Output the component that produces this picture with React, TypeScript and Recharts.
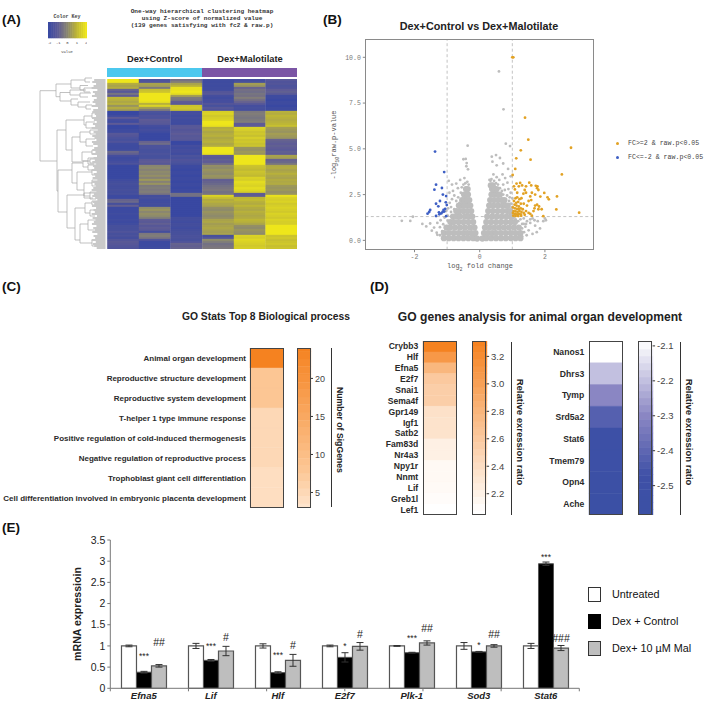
import { BarChart, Bar, Cell, XAxis, YAxis, ScatterChart, Scatter, ReferenceLine, ErrorBar, LabelList } from 'recharts';

const SANS = '"Liberation Sans", Arial, sans-serif';
const MONO = '"Liberation Mono", "DejaVu Sans Mono", monospace';

// (A) heatmap, z-scores top to bottom, one array per sample
const heat1 = [2,2,.8,.6,.8,-.8,-1.2,-.4,-1,1,.9,.7,.9,.3,.8,.5,-2,-2,-1.8,-1,-1.7,-1.8,-1,-2,-2,-1.9,-1.9,-1.2,-1.3,-1.5,-1.6,-1.4,-1.8,-1.9,-1.9,-1.8,-.7,-.9,-1.7,-1.9,-1.8,-1.7,-1.5,-2,-2,-2,-2,-2,-2,-2,-1.8,-1.7,-1.6,-1.7,-1.7,-1.6,-1.7,-1.6,-1.9,-1.9,-.8,-.7,-1.6,-.9,-1.9,-1.9,-1.9,-1.8,-1.9,-1.9,-1.8,-1.9,-1.8,-1.6,-1.6,-1.6,-1.4,-1.6,-1.5,-1.7,-1.3,-1.1,-1.2,-1.3,-1.4];
const heat2 = [-1.5,-1.4,.6,.5,-.3,1.2,1.3,2,2,2,2,1.9,.9,1.6,.5,-.2,-1.5,-1.6,-1.4,-1.5,-1,-1.1,-1.2,-1.7,-1.8,-1.7,-1.8,-2,-2,-2,-2,-.8,-.6,-1.5,-1.5,-1.6,-1.6,-1.5,-1.6,-1.6,-1.1,-1,-1.2,0,.1,-.1,.1,0,.2,-.1,.4,-.1,.3,-.3,-.2,-.3,-.2,-.4,-1.7,-1.6,-1.8,-1.8,-1.7,-1.8,.1,.3,0,.2,.1,-.2,-1,-1.1,-.9,-1.2,-1,-1.1,-1.7,-.3,-.2,-.4,-1.4,-1.9,-1.9,-1.9,-1.8];
const heat3 = [-.5,-.2,.6,.9,1.9,1.9,2,1.8,.5,-.3,-.4,-1,-1.1,1.3,1.4,1.2,-1.7,-1.7,-1.8,-1.7,-1.8,-1.8,-1.9,-1.2,-1.1,-1.3,-1.2,-1,-1.2,-1.1,-1.2,-2,-2,-1.7,-1.8,-1.7,-1.7,-1.8,-1.5,-1.6,-1.4,-1.5,-1.6,-1.9,-1.9,-2,-1.9,-1.9,-2,-1.9,-1.9,-2,-1.9,-1.9,-2,-1.9,-1.9,-.5,-.5,-2,-2,-2,-2,-2,-2,-2,-2,-2,-2,-1.7,-1.7,-1.8,-1.7,-1.7,-1.8,-1.7,-1.6,-1.6,-1.5,-1.5,-1.6,-1.4,-.8,-.9,-.8];
const heat4 = [-1.8,-1.9,-1.8,-1.9,-1.8,-1.8,-1.3,-1.2,-1.7,-1.8,-1.7,-1.7,-1.3,-1.6,-1.2,-1.4,1.5,1.6,1.4,1.5,1.6,2,2,1.9,.8,.9,.7,.8,.9,.7,.8,.9,.7,.8,2,2,2,1.9,-1,-1.1,-.9,-1,-.6,.2,.1,.3,.2,.1,.3,.2,-.9,-.8,-.7,-.5,-.4,-.3,-.5,-.4,1.6,1.2,.8,.9,.7,.6,.2,.1,.3,.2,.1,.2,.6,.7,.5,.6,.7,.6,.5,.6,-1.6,-1.3,.1,-.2,-.5,-.4,-.3];
const heat5 = [-1.7,-1.6,.5,.3,-.8,-.5,-.6,-.4,-.5,-.2,-.5,-.8,-1.2,-1.7,-1.6,-1.7,-.3,-.2,-.3,-.4,-.3,-.2,-1,-1,1.6,1.5,1.3,1.4,1.2,1.5,1.3,1.4,1.2,1.3,.3,.2,.4,.3,2,2,2,2,2,1.3,1.2,1.1,1.3,1.2,1.1,1.6,1.5,1.8,1.7,1.6,1.8,1.7,1.5,-1,-1,1,1.1,.9,.8,1,.8,.7,.9,.8,.7,.8,1,.9,.7,.2,.1,.3,.2,.1,1.6,1.5,1.7,1.6,1.5,1.4,1.5];
const heat6 = [-1.2,-1.4,-1.3,-1.5,-1.4,-1,-.9,-1.1,-1.9,-1.9,-2,-1.9,-1.9,-2,-1.9,-1.9,.9,.8,1,.9,.8,.9,1,1.2,.5,.4,.3,.5,.4,.3,-.8,-.9,-1,-.9,-1,-1.1,-.9,-1,.6,.5,-.8,-.7,-.4,.7,.8,.6,.7,.9,.7,.6,.8,.7,.8,.4,.3,.4,.2,.3,1.9,1.6,1.5,1.6,1.4,1.5,1.6,1.5,1.4,1.6,1.5,1.4,1.6,1.5,1.5,2,2,2,2,2,1.3,1.4,1.2,1.3,1.4,1.2,1.3];
const heatSamples = [heat1, heat2, heat3, heat4, heat5, heat6];
// how far each leaf stub stops short of the row, in column widths
const leafShort = [.1,.04,.16,.08,.02,.2,.06,.12,.03,.18,.09,.05,.14,.02,.22,.07,.04,.12,.16,.03,.09,.18,.06,.13,.02,.2,.08,.15,.04,.11,.17,.03,.07,.21,.1,.05,.14,.02,.19,.08,.12,.04,.16,.06,.1,.02,.18,.08,.13,.05,.2,.03,.11,.15,.07,.02,.17,.09,.04,.13,.2,.06,.1,.03,.16,.08,.12,.02,.19,.05,.14,.09,.03,.17,.07,.11,.04,.2,.08,.13,.02,.15,.06,.1,.18];
const colorKeyLevels = [-2,-1.8,-1.6,-1.4,-1.2,-1,-.8,-.6,-.4,-.2,0,.2,.4,.6,.8,1,1.2,1.4,1.6,1.8,2];
const colorKeyTicks = [-2,-1,0,1,2];
const groupStrip = [{ name: 'groups', control: 1, mal: 1 }];

// dendrogram merges: parent height, upper row, upper child height, lower row, lower child height
const dendroLinks = [
  [40,90.7,56,161,57],[56,84,71,96.7,60],[71,80,85,88,80],[85,78,92,82,90],[80,85.5,88,90,86],
  [60,92.5,70,101,71],[70,90,84,95,80],[84,88,92,92,90],[80,93,91,97,88],[71,99,78,105,78],
  [78,102,90,107,86],[86,105,92,109,91],[57,130,66,191,58],[66,120,84,150,72],[84,116,92,125,86],
  [92,113,96,118,97],[86,122,95,128,92],[72,137,80,162,82],[80,132,90,142,86],[90,130,97,134,96],
  [86,139,95,146,93],[82,152,92,161,88],[88,158,97,164,94],[92,150,98,154,97],[58,170,72,212,67],
  [72,163,83,183,77],[83,161,90,167,88],[88,165,96,170,95],[90,159,97,163,96],[77,172,92,190,84],
  [92,170,97,175,98],[84,183,92,196,90],[92,180,98,186,96],[90,192,97,199,96],[67,195,84,228,75],
  [84,193,97,198,93],[75,208,85,240,80],[85,203,92,213,90],[92,201,98,205,97],[90,210,97,216,95],
  [80,224,88,243,92],[88,220,96,230,94],[92,240,98,246,97],
];

// (B) volcano
const volcanoCore = [
  [-1.1,.12],[-.95,.12],[-.8,.12],[-.65,.12],[-.5,.12],[-.35,.12],[-.2,.12],[-.08,.1],[.08,.1],[.2,.12],[.35,.12],[.5,.12],[.65,.12],[.8,.12],[.95,.12],[1.1,.12],[1.25,.12],
  [-1.1,.4],[-.95,.4],[-.8,.4],[-.65,.4],[-.5,.4],[-.38,.4],[-.25,.4],[-.13,.4],
  [-1.02,.7],[-.9,.7],[-.75,.7],[-.6,.7],[-.45,.7],[-.3,.7],[-.16,.7],
  [-.9,1],[-.8,1],[-.65,1],[-.5,1],[-.35,1],[-.2,1],
  [-.82,1.3],[-.72,1.3],[-.6,1.3],[-.45,1.3],[-.33,1.3],[-.23,1.3],
  [-.72,1.6],[-.62,1.6],[-.5,1.6],[-.38,1.6],[-.26,1.6],
  [-.64,1.9],[-.56,1.9],[-.48,1.9],[-.38,1.9],[-.29,1.9],
  [-.54,2.2],[-.47,2.2],[-.4,2.2],[-.32,2.2],
  [-.48,2.5],[-.42,2.5],[-.36,2.5],[-.42,2.8],[-.37,2.8],
  [.13,.4],[.25,.4],[.38,.4],[.5,.4],[.65,.4],[.8,.4],[.95,.4],[1.1,.4],[1.25,.4],
  [.16,.7],[.3,.7],[.45,.7],[.6,.7],[.75,.7],[.9,.7],[1.05,.7],[1.2,.7],
  [.2,1],[.35,1],[.5,1],[.65,1],[.8,1],[.95,1],[1.08,1],
  [.23,1.3],[.38,1.3],[.52,1.3],[.67,1.3],[.82,1.3],[.95,1.3],[1,1.3],
  [.26,1.6],[.4,1.6],[.55,1.6],[.7,1.6],[.85,1.6],[.93,1.6],
  [.29,1.9],[.42,1.9],[.56,1.9],[.7,1.9],[.8,1.9],[.86,1.9],
  [.32,2.2],[.44,2.2],[.56,2.2],[.68,2.2],[.76,2.2],
  [.36,2.5],[.46,2.5],[.56,2.5],[.62,2.5],[.38,2.8],[.46,2.8],[.52,2.8],[.34,3],[.4,3],
];
const volcanoGrey = [
  [.59,9.23],[.73,7.16],[-.37,5.17],[.8,5.28],[.93,5.15],[.5,4.66],[.39,4.3],[.37,4.57],[.62,4.5],[.72,4.2],[.52,4.1],[.87,3.9],
  [-.5,4.43],[-.43,4.45],[-.4,4.22],[-.36,3.88],[-.41,4.05],[-.47,3.4],[-.6,3.3],[-.72,3.1],[-.85,3.05],[-.95,3.25],[-.67,2.85],[-.82,2.7],[-.93,2.6],[-.78,2.45],
  [.42,3.6],[.52,3.45],[.33,3.25],[.6,3.3],[.7,3.6],[.78,3.4],[.85,3.15],[.95,3.5],[.72,3.05],[.88,2.8],[.95,2.6],[.77,2.75],[1,2.3],[.92,2.35],
  [-2.39,1.07],[-2.13,1.06],[-2.05,1.29],[-1.76,.9],[-1.64,.76],[-1.47,.53],[-1.32,.42],[-1.52,.92],[-1.4,.7],[-1.3,.95],[-1.22,.72],[-1.2,1.1],[-1.15,.5],[-1.08,1.25],[-1.3,.3],[-1.22,.28],
  [-.97,1.75],[-.92,2.05],[-.88,1.55],[-1.03,1.6],[-.98,1.35],[-.85,2.25],
  [-.72,2.15],[-.66,2.35],[-.58,2.6],[-.55,2.9],[-.5,3.05],[-.44,3.12],[-.38,3.2],[-.34,3.05],[-.62,2.05],[-.98,1.08],[-1.12,.88],[-.88,1.82],[-.78,1.7],
  [.3,3.3],[.36,3.35],[.44,3.25],[.5,3.12],[.56,3.05],[.62,2.85],[.68,2.7],[.72,2.5],[.84,2.45],[.9,2.15],[.96,2],[.98,1.8],[1.1,1.15],[1.18,1.05],[1.3,.65],[1.35,.9],
  [1.35,1.2],[1.45,1.05],[1.55,.95],[1.62,1.2],[1.7,.8],[1.78,1.05],[1.85,.65],[1.95,1.05],[2,1.2],[2.03,1.1],[1.4,.75],[1.5,.55],[1.62,.35],[1.75,.45],[1.36,.45],[1.44,.28],[1.3,.9],[1.42,.9],
  [1.55,1.15],[1.68,1.1],[1.25,1.15],[1.2,.25],[1.3,.22],
];
const volcanoUp = [
  [1.03,10],[1,10],[1.39,6.7],[1.49,5.5],[1.26,4.92],[1.12,4.48],[1.56,4.41],[2.8,5.06],[2.52,3.6],[1.09,3.9],[1.01,3.57],[3.05,1.51],[2.35,1.69],[2.37,2.4],[2.12,2.24],[2.08,2.35],[1.98,2.59],[1.86,2.39],
  [1.77,2.95],[1.72,2.98],[1.76,2.85],[1.8,2.75],[1.52,3.15],[1.58,3],[1.42,2.95],[1.24,3.14],[1.13,3.1],[1.2,2.95],[1.3,3],[1.05,2.95],[1.08,2.78],[1.15,2.6],[1.38,2.75],[1.34,2.55],[1.42,2.6],[1.6,2.6],[1.7,2.5],[1.55,2.4],[1.5,2.15],
  [1.28,2.3],[1.22,2.25],[1.1,2.3],[1.15,2.35],[1.05,2.15],[1.12,2.05],[1.18,2.1],[1.26,2],[1.35,2],[1.07,1.95],[1.13,1.9],[1.2,1.85],[1.02,1.8],[1.08,1.75],[1.14,1.72],[1.2,1.7],[1.26,1.75],[1.32,1.7],
  [1.04,1.6],[1.1,1.58],[1.16,1.55],[1.22,1.6],[1.28,1.55],[1.02,1.5],[1.08,1.45],[1.14,1.42],[1.2,1.45],[1.26,1.42],[1.03,1.35],[1.1,1.33],[1.18,1.33],[1.27,1.35],[1.35,1.5],[1.42,1.6],[1.5,1.5],[1.55,1.45],[1.6,1.35],[1.38,1.4],
  [1.7,1.9],[1.76,1.95],[1.68,1.75],[1.82,1.85],[1.8,1.7],[1.9,1.7],[1.65,1.6],[1.95,1.32],[1.45,1.9],[1.58,2.2],
];
const volcanoDown = [
  [-1.37,4.85],[-1.09,3.73],[-1.34,3.04],[-1.39,2.77],[-1.16,2.86],[-1.13,2.5],[-1.03,2.42],[-1.34,2],[-1.22,2.15],[-1.04,2.08],[-1.27,1.86],[-1.01,1.93],
  [-1.52,1.66],[-1.55,1.55],[-1.6,1.46],[-1.11,1.66],[-1.06,1.72],[-1.09,1.57],[-1.25,1.53],[-1.18,1.47],[-1.34,1.33],[-1.24,1.42],[-1.03,1.32],[-1.14,1.55],
];

// (C) GO terms
const goTerms = ['Animal organ development','Reproductive structure development','Reproductive system development','T-helper 1 type immune response','Positive regulation of cold-induced thermogenesis','Negative regulation of reproductive process','Trophoblast giant cell differentiation','Cell differentiation involved in embryonic placenta development'];
const goCounts = [24,8,8,5,5,5,4,4];
const goLevels = [3,4,5,6,7,8,9,10,11,12,13,14,15,16,17,18,19,20,21,22,23,24];
const goTicks = [5,10,15,20];

// (D) genes
const upGenes = ['Crybb3','Hlf','Efna5','E2f7','Snai1','Sema4f','Gpr149','Igf1','Satb2','Fam83d','Nr4a3','Npy1r','Nnmt','Lif','Greb1l','Lef1'];
const upRatios = [3.3,3.08,2.78,2.6,2.55,2.55,2.37,2.35,2.35,2.22,2.22,2.13,2.13,2.12,2.1,2.07];
const upLevels = [2.05,2.1,2.15,2.2,2.25,2.3,2.35,2.4,2.45,2.5,2.55,2.6,2.65,2.7,2.75,2.8,2.85,2.9,2.95,3,3.05,3.1,3.15,3.2,3.25,3.3];
const upTicks = [2.2,2.4,2.6,2.8,3,3.2];
const downGenes = ['Nanos1','Dhrs3','Tymp','Srd5a2','Stat6','Tmem79','Opn4','Ache'];
const downRatios = [-2.09,-2.2,-2.3,-2.42,-2.52,-2.53,-2.55,-2.58];
const downLevels = [-2.58,-2.56,-2.54,-2.52,-2.5,-2.48,-2.46,-2.44,-2.42,-2.4,-2.38,-2.36,-2.34,-2.32,-2.3,-2.28,-2.26,-2.24,-2.22,-2.2,-2.18,-2.16,-2.14,-2.12,-2.1];
const downTicks = [-2.5,-2.4,-2.3,-2.2,-2.1];

// (E) qPCR
const qpcrGenes = ['Efna5','Lif','Hlf','E2f7','Plk-1','Sod3','Stat6'];
const untreated = [1,1,1,1,1,1,1];
const untreatedErr = [.02,.06,.05,.02,.01,.08,.06];
const dexControl = [.38,.66,.37,.73,.84,.86,2.94];
const dexControlErr = [.02,.02,.02,.11,.01,.01,.04];
const dexMal = [.53,.88,.66,.99,1.07,1,.95];
const dexMalErr = [.03,.11,.14,.09,.05,.03,.06];
const controlMarks = ['***','***','***','*','***','*','***'];
const controlMarkAt = [.68,.93,.72,.93,1.12,.96,3.03];
const malMarks = ['##','#','#','#','##','##','###'];
const malMarkAt = [1.0,1.12,.92,1.18,1.34,1.18,1.1];
const qpcrTicks = [0,.5,1,1.5,2,2.5,3,3.5];

type Stop = [number, number[]];
const ramp = (stops: Stop[]) => (v: number) => {
  if (v <= stops[0][0]) return `rgb(${stops[0][1].join(',')})`;
  for (let i = 1; i < stops.length; i++) {
    if (v <= stops[i][0]) {
      const t = (v - stops[i - 1][0]) / (stops[i][0] - stops[i - 1][0]);
      const c = stops[i - 1][1].map((a, k) => Math.round(a + (stops[i][1][k] - a) * t));
      return `rgb(${c.join(',')})`;
    }
  }
  return `rgb(${stops[stops.length - 1][1].join(',')})`;
};
const heatColor = ramp([[-2, [58, 73, 162]], [-1, [94, 92, 150]], [0, [138, 134, 114]], [1, [189, 182, 54]], [2, [238, 230, 28]]]);
const goColor = ramp([[3, [254, 228, 204]], [8, [252, 198, 148]], [24, [245, 130, 32]]]);
const upColor = ramp([[2.07, [255, 255, 255]], [3.3, [245, 130, 32]]]);
const downColor = ramp([[-2.6, [58, 80, 165]], [-2.47, [63, 80, 166]], [-2.3, [138, 134, 195]], [-2.09, [255, 255, 255]]]);

const heatRows = heat1.map((_, i) => {
  const row: Record<string, number | string> = { row: i, short: leafShort[i], leaf: .465 - leafShort[i], gutter: .05 };
  heatSamples.forEach((s, k) => { row['s' + k] = 1; });
  return row;
});
const keyRows = colorKeyLevels.map(level => ({ level, one: 1 }));
const qpcrRows = qpcrGenes.map((gene, i) => ({
  gene,
  untreated: untreated[i], untreatedErr: untreatedErr[i],
  control: dexControl[i], controlErr: dexControlErr[i],
  mal: dexMal[i], malErr: dexMalErr[i],
}));
const toPoints = (list: number[][]) => list.map(([x, y]) => ({ x, y }));

function Txt({ x, y, size, children, align = 'left', weight = 400, font = SANS, color = '#222', rotate = 0, italic = false }: any) {
  const shift = align === 'center' ? '-50%' : align === 'right' ? '-100%' : '0';
  return (
    <div style={{ position: 'absolute', left: x, top: y, fontFamily: font, fontSize: size, fontWeight: weight, fontStyle: italic ? 'italic' : 'normal', color, whiteSpace: 'pre', lineHeight: 1, transform: `translate(${shift},-50%) rotate(${rotate}deg)` }}>
      {children}
    </div>
  );
}

function Frame({ left, top, width, height, color = '#444', thick = 1.2 }: any) {
  return <div style={{ position: 'absolute', left, top, width, height, boxSizing: 'border-box', border: `${thick}px solid ${color}` }} />;
}

function Rule({ x, top, height }: any) {
  return <div style={{ position: 'absolute', left: x, top, width: 1.1, height, background: '#333' }} />;
}

function HeatColumn({ labels, values, colorOf, right, top, width, height, labelWidth, fontSize, labelGap = 4.5 }: any) {
  const rows = labels.map((name: string, i: number) => ({ name, one: 1, value: values[i] }));
  const tick = (p: any) => (
    <text x={p.x} y={p.y} dy="0.35em" textAnchor="end" fontSize={fontSize} fontWeight={700} fontFamily={SANS} fill="#2a2a2a">{p.payload.value}</text>
  );
  return (
    <div style={{ position: 'absolute', left: right - width - labelWidth, top }}>
      <BarChart width={width + labelWidth} height={height} data={rows} layout="vertical" margin={{ top: 0, right: 0, bottom: 0, left: 0 }} barCategoryGap={0}>
        <XAxis type="number" domain={[0, 1]} hide />
        <YAxis type="category" dataKey="name" width={labelWidth} interval={0} tickLine={false} axisLine={false} tickSize={0} tickMargin={labelGap} tick={tick} />
        <Bar dataKey="one" isAnimationActive={false}>
          {rows.map((r: any) => <Cell key={r.name} fill={colorOf(r.value)} stroke={colorOf(r.value)} strokeWidth={0.4} />)}
        </Bar>
      </BarChart>
      <Frame left={labelWidth} top={0} width={width} height={height} />
    </div>
  );
}

function ColorBar({ levels, colorOf, domain, ticks, left, top, width, height, fontSize, format }: any) {
  const rows = levels.map((level: number) => ({ level, one: 1 }));
  const pxPerUnit = height / (domain[1] - domain[0]);
  const step = Math.abs(levels[1] - levels[0]);
  return (
    <div style={{ position: 'absolute', left, top }}>
      <BarChart width={width + 34} height={height} data={rows} layout="vertical" margin={{ top: 0, right: 0, bottom: 0, left: 0 }} barSize={step * pxPerUnit + 1}>
        <XAxis type="number" domain={[0, 1]} hide />
        <YAxis type="number" dataKey="level" orientation="right" reversed domain={domain} ticks={ticks} allowDataOverflow width={34} axisLine={false} tickSize={2.5} tickMargin={2} tickLine={{ stroke: '#333' }} tickFormatter={format} tick={{ fontSize, fontFamily: SANS, fill: '#444' }} />
        <Bar dataKey="one" isAnimationActive={false}>
          {rows.map((r: any) => <Cell key={r.level} fill={colorOf(r.level)} stroke={colorOf(r.level)} strokeWidth={1.2} />)}
        </Bar>
      </BarChart>
      <Frame left={0} top={0} width={width} height={height} />
    </div>
  );
}

const dot = (fill: string, r: number) => (p: any) => <circle cx={p.cx} cy={p.cy} r={r} fill={fill} />;

function MarkLabel({ marks, at, fontSize }: any) {
  return (p: any) => {
    const baseline = p.y + p.height;
    const y = baseline - at[p.index] * QPCR_PX_PER_UNIT;
    return <text x={p.x + p.width / 2} y={y} textAnchor="middle" fontSize={fontSize} fontFamily={SANS} fill="#222">{marks[p.index]}</text>;
  };
}
const QPCR_PX_PER_UNIT = 148.3 / 3.5;

export default function App() {
  return (
    <div style={{ position: 'absolute', left: 0, top: 0, width: 709, height: 706, background: '#fff', overflow: 'hidden' }}>
      <Txt x={2} y={20} size={13.5} weight={700} color="#111">(A)</Txt>
      <Txt x={323} y={20} size={13.5} weight={700} color="#111">(B)</Txt>
      <Txt x={2} y={287} size={13.5} weight={700} color="#111">(C)</Txt>
      <Txt x={370} y={287} size={13.5} weight={700} color="#111">(D)</Txt>
      <Txt x={2} y={528} size={13.5} weight={700} color="#111">(E)</Txt>

      {/* A: colour key */}
      <Txt x={67} y={17} size={5} weight={700} font={MONO} align="center" color="#444">Color Key</Txt>
      <div style={{ position: 'absolute', left: 48, top: 22 }}>
        <BarChart width={39} height={22} data={keyRows} margin={{ top: 0, right: 0, bottom: 0, left: 0 }} barCategoryGap={0}>
          <XAxis dataKey="level" interval={0} height={6} tickSize={1.5} axisLine={false} tickLine={false} tick={{ fontSize: 3.8, fontFamily: MONO, fill: '#444' }} tickFormatter={(v: number) => (colorKeyTicks.includes(v) ? String(v) : '')} />
          <YAxis domain={[0, 1]} hide />
          <Bar dataKey="one" isAnimationActive={false}>
            {keyRows.map(r => <Cell key={r.level} fill={heatColor(r.level)} stroke={heatColor(r.level)} strokeWidth={0.6} />)}
          </Bar>
        </BarChart>
      </div>
      <Txt x={67} y={53} size={3.8} font={MONO} align="center" color="#444">Value</Txt>
      <Txt x={202} y={12} size={6.1} weight={700} font={MONO} align="center" color="#333">One-way hierarchical clustering heatmap</Txt>
      <Txt x={202} y={18.7} size={6.1} weight={700} font={MONO} align="center" color="#333">using Z-score of normalized value</Txt>
      <Txt x={202} y={26} size={6.1} weight={700} font={MONO} align="center" color="#333">(139 genes satisfying with fc2 &amp; raw.p)</Txt>
      <Txt x={154.7} y={59.5} size={9.3} weight={700} align="center">Dex+Control</Txt>
      <Txt x={250} y={59.5} size={9.3} weight={700} align="center">Dex+Malotilate</Txt>

      {/* A: group strip */}
      <div style={{ position: 'absolute', left: 107, top: 67.5 }}>
        <BarChart width={190} height={9.5} data={groupStrip} layout="vertical" margin={{ top: 0, right: 0, bottom: 0, left: 0 }} barCategoryGap={0}>
          <XAxis type="number" domain={[0, 2]} hide />
          <YAxis type="category" dataKey="name" hide />
          <Bar dataKey="control" stackId="g" fill="#4CC8EE" isAnimationActive={false} />
          <Bar dataKey="mal" stackId="g" fill="#7B55A5" isAnimationActive={false} />
        </BarChart>
      </div>

      {/* A: dendrogram */}
      <div style={{ position: 'absolute', left: 35, top: 75 }}>
        <ScatterChart width={75} height={180} margin={{ top: 0, right: 0, bottom: 0, left: 0 }}>
          <XAxis type="number" dataKey="x" domain={[35, 110]} hide />
          <YAxis type="number" dataKey="y" domain={[75, 255]} reversed hide />
          {dendroLinks.map(([h, y1, x1, y2, x2], i) => (
            <Scatter key={i} data={[{ x: x1, y: y1 }, { x: h, y: y1 }, { x: h, y: y2 }, { x: x2, y: y2 }]} line={{ stroke: '#a6a6a6', strokeWidth: 0.7 }} shape={() => <g />} isAnimationActive={false} />
          ))}
        </ScatterChart>
      </div>

      {/* A: heatmap */}
      <div style={{ position: 'absolute', left: 91, top: 79.3 }}>
        <BarChart width={206.3} height={170} data={heatRows} layout="vertical" margin={{ top: 0, right: 0, bottom: 0, left: 0 }} barCategoryGap={0}>
          <XAxis type="number" domain={[0, 6.515]} hide />
          <YAxis type="category" dataKey="row" hide />
          <Bar dataKey="short" stackId="h" fill="transparent" isAnimationActive={false} />
          <Bar dataKey="leaf" stackId="h" fill="#c9c9c9" isAnimationActive={false} />
          <Bar dataKey="gutter" stackId="h" fill="#fff" isAnimationActive={false} />
          {heatSamples.map((sample, k) => (
            <Bar key={k} dataKey={'s' + k} stackId="h" isAnimationActive={false}>
              {sample.map((z, i) => <Cell key={i} fill={heatColor(z)} stroke={heatColor(z)} strokeWidth={0.3} />)}
            </Bar>
          ))}
        </BarChart>
      </div>

      {/* B: volcano */}
      <Txt x={479} y={26} size={10.8} weight={700} align="center">Dex+Control vs Dex+Malotilate</Txt>
      <div style={{ position: 'absolute', left: 330, top: 30 }}>
        <ScatterChart width={270} height={245} margin={{ top: 9, right: 5.7, bottom: 0, left: 0 }}>
          <XAxis type="number" dataKey="x" domain={[-3.51, 3.515]} ticks={[-2, 0, 2]} height={25.3} tickSize={2.5} axisLine={false} tickLine={{ stroke: '#888' }} tick={{ fontSize: 6.5, fontFamily: MONO, fill: '#777' }} />
          <YAxis type="number" dataKey="y" domain={[-0.51, 11]} ticks={[0, 2.5, 5, 7.5, 10]} width={35.3} tickSize={2.5} axisLine={false} tickLine={{ stroke: '#888' }} tickFormatter={(v: number) => v.toFixed(1)} tick={{ fontSize: 6.5, fontFamily: MONO, fill: '#777' }} />
          <Scatter data={toPoints(volcanoCore)} shape={dot('#bdbdbd', 3.1)} isAnimationActive={false} />
          <Scatter data={toPoints(volcanoGrey)} shape={dot('#bdbdbd', 1.4)} isAnimationActive={false} />
          <ReferenceLine x={-1} stroke="#bbb" strokeWidth={0.9} strokeDasharray="3 2.5" />
          <ReferenceLine x={1} stroke="#bbb" strokeWidth={0.9} strokeDasharray="3 2.5" />
          <ReferenceLine y={1.3} stroke="#bbb" strokeWidth={0.9} strokeDasharray="3 2.5" />
          <Scatter data={toPoints(volcanoUp)} shape={dot('#E2A224', 1.4)} isAnimationActive={false} />
          <Scatter data={toPoints(volcanoDown)} shape={dot('#3E5FC4', 1.4)} isAnimationActive={false} />
        </ScatterChart>
      </div>
      <Frame left={365.3} top={39} width={229} height={210.7} color="#8a8a8a" thick={1.3} />
      <Txt x={480} y={268} size={7} font={MONO} align="center" color="#555">log<sub style={{ fontSize: 5 }}>2</sub> fold change</Txt>
      <Txt x={336} y={145} size={7} font={MONO} align="center" color="#555" rotate={-90}>-log<sub style={{ fontSize: 5 }}>10</sub>raw.p-value</Txt>
      <div style={{ position: 'absolute', left: 616, top: 142, width: 2.6, height: 2.6, borderRadius: 2, background: '#E2A224' }} />
      <div style={{ position: 'absolute', left: 616, top: 156, width: 2.6, height: 2.6, borderRadius: 2, background: '#3E5FC4' }} />
      <Txt x={628} y={143.5} size={6.6} font={MONO} color="#444">FC&gt;=2 &amp; raw.p&lt;0.05</Txt>
      <Txt x={628} y={157.5} size={6.6} font={MONO} color="#444">FC&lt;=-2 &amp; raw.p&lt;0.05</Txt>

      {/* C */}
      <Txt x={266} y={316.7} size={10.3} weight={700} align="center">GO Stats Top 8 Biological process</Txt>
      <HeatColumn labels={goTerms} values={goCounts} colorOf={goColor} right={284} top={348.3} width={34} height={159.7} labelWidth={250} fontSize={8} labelGap={4} />
      <ColorBar levels={goLevels} colorOf={goColor} domain={[3, 24]} ticks={goTicks} left={297} top={348.3} width={13.5} height={159.7} fontSize={9} />
      <Rule x={331} top={348} height={159} />
      <Txt x={340} y={430} size={8.7} weight={700} align="center" rotate={90}>Number of SigGenes</Txt>

      {/* D */}
      <Txt x={540} y={316.7} size={12.1} weight={700} align="center">GO genes analysis for animal organ development</Txt>
      <HeatColumn labels={upGenes} values={upRatios} colorOf={upColor} right={457} top={341.3} width={33.7} height={174} labelWidth={50} fontSize={8.6} labelGap={4.8} />
      <ColorBar levels={upLevels} colorOf={upColor} domain={[2.045, 3.312]} ticks={upTicks} left={471.7} top={341.3} width={14.6} height={174} fontSize={9.5} format={(v: number) => v.toFixed(1)} />
      <Rule x={511.2} top={342} height={173} />
      <Txt x={520} y={431.7} size={9.5} weight={700} align="center" rotate={90}>Relative exression ratio</Txt>
      <HeatColumn labels={downGenes} values={downRatios} colorOf={downColor} right={623.3} top={341.3} width={34} height={174} labelWidth={50} fontSize={8.6} labelGap={4.8} />
      <ColorBar levels={downLevels} colorOf={downColor} domain={[-2.584, -2.086]} ticks={downTicks} left={637.7} top={341.3} width={14.6} height={174} fontSize={9.5} format={(v: number) => v.toFixed(1)} />
      <Rule x={680} top={342} height={173} />
      <Txt x={689} y={431.7} size={9.5} weight={700} align="center" rotate={90}>Relative exression ratio</Txt>

      {/* E */}
      <Txt x={77} y={614} size={10.6} weight={700} align="center" rotate={-90}>mRNA expressioin</Txt>
      <div style={{ position: 'absolute', left: 60, top: 530 }}>
        <BarChart width={530} height={176} data={qpcrRows} margin={{ top: 10, right: 10.7, bottom: 0, left: 0 }} barCategoryGap="16.7%" barGap={0}>
          <XAxis xAxisId="axisEdge" type="number" domain={[0, 7]} ticks={[0, 1, 2, 3, 4, 5, 6, 7]} height={3} tickSize={3} stroke="#777" tickFormatter={() => ''} />
          <XAxis xAxisId="cat" dataKey="gene" height={14.7} axisLine={false} tickLine={false} tickSize={0} tickMargin={1} interval={0} tick={{ fontSize: 9.5, fontWeight: 700, fontStyle: 'italic', fontFamily: SANS, fill: '#222' }} />
          <YAxis domain={[0, 3.5]} ticks={qpcrTicks} width={50.3} tickSize={3} stroke="#777" tickFormatter={(v: number) => String(v)} tick={{ fontSize: 10.5, fontFamily: SANS, fill: '#222' }} />
          <Bar xAxisId="cat" dataKey="untreated" fill="#fff" stroke="#555" strokeWidth={1.2} isAnimationActive={false}>
            <ErrorBar dataKey="untreatedErr" width={3.5} stroke="#333" strokeWidth={1} />
          </Bar>
          <Bar xAxisId="cat" dataKey="control" fill="#000" stroke="#555" strokeWidth={1} isAnimationActive={false}>
            <ErrorBar dataKey="controlErr" width={3.5} stroke="#333" strokeWidth={1} />
            <LabelList content={MarkLabel({ marks: controlMarks, at: controlMarkAt, fontSize: 8.5 })} />
          </Bar>
          <Bar xAxisId="cat" dataKey="mal" fill="#bebebe" stroke="#555" strokeWidth={1.2} isAnimationActive={false}>
            <ErrorBar dataKey="malErr" width={3.5} stroke="#333" strokeWidth={1} />
            <LabelList content={MarkLabel({ marks: malMarks, at: malMarkAt, fontSize: 10.5 })} />
          </Bar>
        </BarChart>
      </div>
      <Frame left={588} top={587} width={13} height={15} color="#333" />
      <div style={{ position: 'absolute', left: 588, top: 614, width: 13, height: 15, background: '#000' }} />
      <div style={{ position: 'absolute', left: 588, top: 641, width: 13, height: 15, background: '#bebebe', boxSizing: 'border-box', border: '1.2px solid #333' }} />
      <Txt x={612} y={594} size={10.8} color="#111">Untreated</Txt>
      <Txt x={612} y={621} size={10.8} color="#111">Dex + Control</Txt>
      <Txt x={612} y={648} size={10.8} color="#111">Dex+ 10 µM Mal</Txt>
    </div>
  );
}
